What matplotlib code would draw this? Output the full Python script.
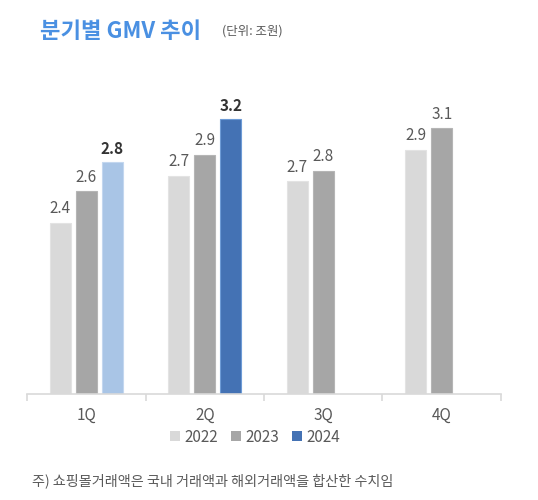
import matplotlib
matplotlib.use("Agg")
import matplotlib.pyplot as plt
from matplotlib.patches import Patch
import numpy as np

plt.rcParams['font.family'] = ['Noto Sans CJK KR', 'DejaVu Sans']

quarters = ["1Q", "2Q", "3Q", "4Q"]
gmv_2022 = [2.36, 2.73, 2.69, 2.94]
gmv_2023 = [2.61, 2.90, 2.77, 3.11]
gmv_2024 = [2.84, 3.18, None, None]
years = ["2022", "2023", "2024"]

title = "분기별 GMV 추이"
unit = "(단위: 조원)"
note = "주) 쇼핑몰거래액은 국내 거래액과 해외거래액을 합산한 수치임"

W, H = 538, 500
fig = plt.figure(figsize=(W / 100, H / 100), dpi=100)
ax = fig.add_axes([27 / W, 106 / H, (501 - 27) / W, (394 - 80) / H])

x = np.arange(len(quarters))
step = 0.219
width = 0.177
gray_txt = "#595959"

fills_2022 = "#d9d9d9"
fills_2023 = "#a6a6a6"
fills_2024 = ["#a9c5e6", "#4472b4"]
edges_2024 = ["#c3d7ef", "#6d9bd6"]

series = [gmv_2022, gmv_2023]
cols = [fills_2022, fills_2023]
edges = ["#e3e3e3", "#b5b5b5"]
for k, (vals, c, e) in enumerate(zip(series, cols, edges)):
    bars = ax.bar(x + (k - 1) * step, vals, width=width, bottom=0, color=c,
                  edgecolor=e, linewidth=0.8)
    for b, v in zip(bars, vals):
        ax.annotate(f"{v:.1f}", (b.get_x() + b.get_width() / 2, v),
                    xytext=(0, 4), textcoords="offset points",
                    ha="center", va="bottom", fontsize=11, color=gray_txt)

for i, v in enumerate(gmv_2024):
    if v is None:
        continue
    b = ax.bar(x[i] + step, v, width=width, color=fills_2024[i],
               edgecolor=edges_2024[i], linewidth=0.8)[0]
    ax.annotate(f"{v:.1f}", (b.get_x() + b.get_width() / 2, v),
                xytext=(0, 4), textcoords="offset points",
                ha="center", va="bottom", fontsize=11, color="#333333",
                fontweight="bold")

ax.set_ylim(1.0, 1.0 + 314 / 126)
ax.set_xlim(-0.5, 3.5)
ax.set_yticks([])
for s in ["top", "right", "left"]:
    ax.spines[s].set_visible(False)
ax.spines["bottom"].set_color("#d9d9d9")
ax.spines["bottom"].set_linewidth(1.2)
ax.set_xticks(x)
ax.set_xticklabels(quarters, fontsize=11, color=gray_txt)
ax.tick_params(axis="x", which="major", length=0, pad=9)
ax.set_xticks(np.arange(-0.5, 4.0, 1.0), minor=True)
ax.tick_params(axis="x", which="minor", length=5, color="#d9d9d9", width=1.2)

handles = [Patch(facecolor=fills_2022, edgecolor="none"),
           Patch(facecolor=fills_2023, edgecolor="none"),
           Patch(facecolor="#4472b4", edgecolor="none")]
fig.legend(handles, years, loc="center", bbox_to_anchor=(255 / W, 1 - 437 / H),
           ncol=3, frameon=False, fontsize=11, handlelength=0.65, handleheight=0.65,
           handletextpad=0.3, columnspacing=0.85, labelcolor=gray_txt)

fig.text(40 / W, 1 - 31 / H, title, fontsize=16, fontweight="semibold",
         color="#4a90e2", ha="left", va="center")
fig.text(222 / W, 1 - 31 / H, unit, fontsize=9, color=gray_txt,
         ha="left", va="center")
fig.text(32 / W, 1 - 481 / H, note, fontsize=10.2, color=gray_txt,
         ha="left", va="center")

fig.savefig("out.png", dpi=100, facecolor="white")
